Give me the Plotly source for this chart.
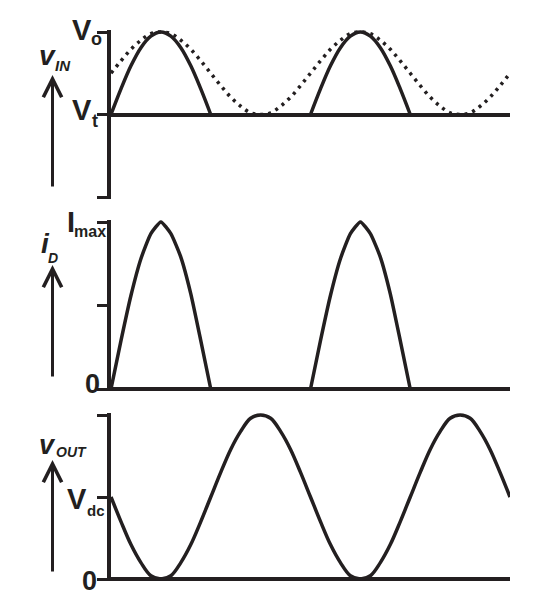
import plotly.graph_objects as go

W, H = 548, 604
INK = "#231f20"
FONT = "Liberation Sans, Arial, Helvetica, sans-serif"

# ---------------- data (time in units; one period = 4 units) ----------------
t_wave = [0.0, 0.2, 0.4, 0.6, 0.8, 1.0, 1.2, 1.4, 1.6, 1.8,
          2.0, 2.2, 2.4, 2.6, 2.8, 3.0, 3.2, 3.4, 3.6, 3.8,
          4.0, 4.2, 4.4, 4.6, 4.8, 5.0, 5.2, 5.4, 5.6, 5.8,
          6.0, 6.2, 6.4, 6.6, 6.8, 7.0, 7.2, 7.4, 7.6, 7.8, 8.0]

# dotted input sine (0 = Vt, 1 = Vo)
vin_sine = [0.50, 0.65, 0.79, 0.90, 0.98, 1.00, 0.98, 0.90, 0.79, 0.65,
            0.50, 0.35, 0.21, 0.10, 0.02, 0.00, 0.02, 0.10, 0.21, 0.35,
            0.50, 0.65, 0.79, 0.90, 0.98, 1.00, 0.98, 0.90, 0.79, 0.65,
            0.50, 0.35, 0.21, 0.10, 0.02, 0.00, 0.02, 0.10, 0.21, 0.35, 0.50]

# output voltage (0 .. peak, Vdc at middle)
vout = [0.50, 0.35, 0.21, 0.10, 0.02, 0.00, 0.02, 0.10, 0.21, 0.35,
        0.50, 0.65, 0.79, 0.90, 0.98, 1.00, 0.98, 0.90, 0.79, 0.65,
        0.50, 0.35, 0.21, 0.10, 0.02, 0.00, 0.02, 0.10, 0.21, 0.35,
        0.50, 0.65, 0.79, 0.90, 0.98, 1.00, 0.98, 0.90, 0.79, 0.65, 0.50]

# conduction pulses
t_pulse_a = [0.0, 0.2, 0.4, 0.6, 0.8, 1.0, 1.2, 1.4, 1.6, 1.8, 2.0]
t_pulse_b = [4.0, 4.2, 4.4, 4.6, 4.8, 5.0, 5.2, 5.4, 5.6, 5.8, 6.0]
vin_pulse = [0.00, 0.31, 0.59, 0.81, 0.95, 1.00, 0.95, 0.81, 0.59, 0.31, 0.00]
id_pulse = [0.00, 0.29, 0.56, 0.78, 0.93, 1.00, 0.93, 0.79, 0.57, 0.29, 0.00]

top_ticks = [-1, 0, 1]
mid_ticks = [0, 0.5, 1]
bot_ticks = [0, 0.5, 1]

# ---------------- layout helpers ----------------
OFF = 8  # page body margin offset


def px2x(p):
    return (p - OFF) / W


def px2y(p):
    return 1 - (p - OFF) / H


def ydomain(px_lo, px_hi, lo, hi, pad_px=2.0):
    per = (px_lo - px_hi) / (hi - lo)
    pad = pad_px / per
    return [px2y(px_lo + pad_px), px2y(px_hi - pad_px)], [lo - pad, hi + pad]


X0, X1 = 111, 510
xdom = [px2x(X0), px2x(X1)]

d1, r1 = ydomain(197, 32, -1, 1)
d2, r2 = ydomain(389, 222, 0, 1)
d3, r3 = ydomain(579, 415, 0, 1)

fig = go.Figure()

# top panel
fig.add_trace(go.Scatter(x=t_wave, y=vin_sine, mode="lines", xaxis="x", yaxis="y",
                         line=dict(color=INK, width=3.5, dash="3px,5px", shape="spline")))
fig.add_trace(go.Scatter(x=t_pulse_a + [None] + t_pulse_b, y=vin_pulse + [None] + vin_pulse,
                         mode="lines", xaxis="x", yaxis="y", connectgaps=False,
                         line=dict(color=INK, width=3.5, shape="spline")))
# middle panel
fig.add_trace(go.Scatter(x=t_pulse_a + [None] + t_pulse_b, y=id_pulse + [None] + id_pulse,
                         mode="lines", xaxis="x2", yaxis="y2", connectgaps=False,
                         line=dict(color=INK, width=3.5, shape="spline", smoothing=0.5)))
# bottom panel
fig.add_trace(go.Scatter(x=t_wave, y=vout, mode="lines", xaxis="x3", yaxis="y3",
                         line=dict(color=INK, width=3.5, shape="spline")))

yax_common = dict(showline=True, linecolor=INK, linewidth=3.5, ticks="outside", ticklen=10,
                  tickwidth=3, tickcolor=INK, showticklabels=False, showgrid=False,
                  zeroline=True, zerolinecolor=INK, zerolinewidth=4, fixedrange=True)
xax_common = dict(visible=False, range=[0, 8], domain=xdom, fixedrange=True)

fig.update_layout(
    width=W, height=H, margin=dict(l=0, r=0, t=0, b=0),
    paper_bgcolor="white", plot_bgcolor="white", showlegend=False,
    xaxis=dict(**xax_common, anchor="y"),
    xaxis2=dict(**xax_common, anchor="y2"),
    xaxis3=dict(**xax_common, anchor="y3"),
    yaxis=dict(**yax_common, domain=d1, range=r1, tickvals=top_ticks, anchor="x"),
    yaxis2=dict(**yax_common, domain=d2, range=r2, tickvals=mid_ticks, anchor="x2"),
    yaxis3=dict(**yax_common, domain=d3, range=r3, tickvals=bot_ticks, anchor="x3"),
)

# ---------------- labels ----------------
labels = [
    # text, x px, y px, size, italic
    ("V", 82, 30, 29, False),
    ("o", 96, 39.5, 18, False),
    ("V", 82, 110, 29, False),
    ("t", 94.5, 121, 18, False),
    ("v", 47.5, 55.5, 28, True),
    ("IN", 63, 65.5, 15, True),
    ("I", 70.5, 222, 29, False),
    ("max", 90, 231.5, 16, False),
    ("i", 45, 243, 28, True),
    ("D", 52.5, 257.5, 14, True),
    ("0", 92.5, 383.5, 27, False),
    ("v", 47, 444.5, 27, True),
    ("OUT", 71.5, 451.5, 14, True),
    ("V", 77, 499, 29, False),
    ("dc", 96, 510, 15, False),
    ("0", 89.5, 580.5, 27, False),
]
for txt, x, y, s, it in labels:
    t = "<b>%s</b>" % txt
    if it:
        t = "<i>%s</i>" % t
    fig.add_annotation(text=t, x=px2x(x), y=px2y(y), xref="paper", yref="paper",
                       xanchor="center", yanchor="middle", showarrow=False,
                       font=dict(family=FONT, size=s, color=INK))

# vertical arrows
for tip_y, tail_y in [(75, 188), (265, 378), (460, 573)]:
    fig.add_annotation(text="", x=px2x(52.5), y=px2y(tip_y), xref="paper", yref="paper",
                       showarrow=True, ax=0, ay=tail_y - tip_y, axref="pixel", ayref="pixel",
                       arrowhead=5, arrowsize=1.2, arrowwidth=3, arrowcolor=INK, standoff=0)

fig.write_html("out.html")
